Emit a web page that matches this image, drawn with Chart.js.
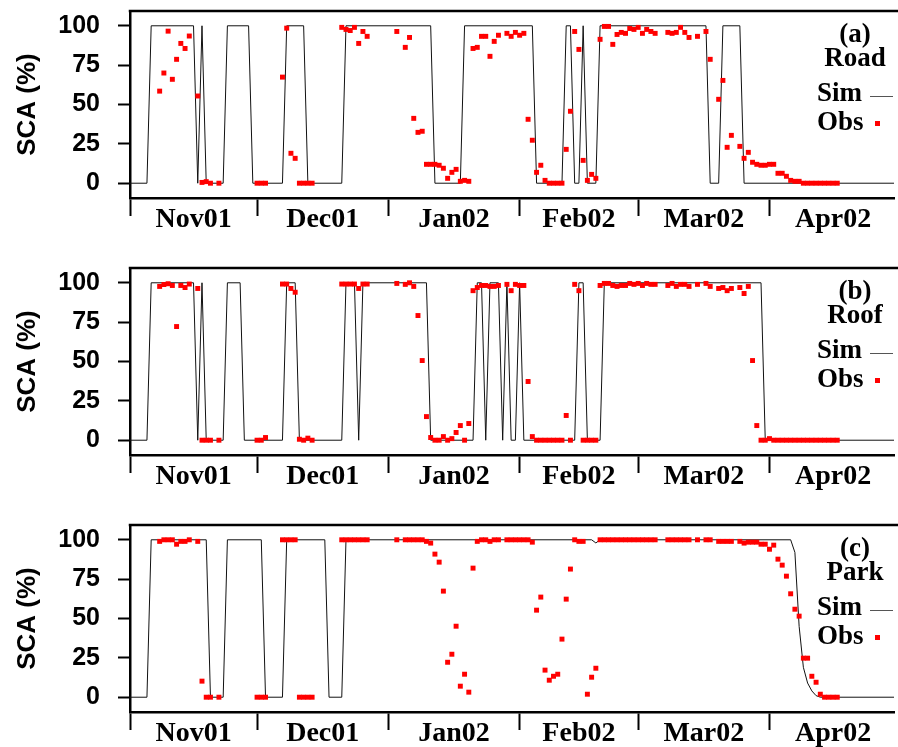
<!DOCTYPE html>
<html>
<head>
<meta charset="utf-8">
<script src="https://cdn.jsdelivr.net/npm/chart.js@4.4.1/dist/chart.umd.min.js"></script>
<style>
  html, body { margin: 0; padding: 0; background: #ffffff; }
  #wrap { position: relative; width: 898px; height: 747px; overflow: hidden; background: #fff; }
  canvas { position: absolute; left: 0; }
</style>
</head>
<body>
<div id="wrap">
  <canvas id="c1" width="898" height="257" style="top:0px"></canvas>
  <canvas id="c2" width="898" height="257" style="top:257px"></canvas>
  <canvas id="c3" width="898" height="233" style="top:514px"></canvas>
</div>
<script>
// ---- Data (x = day since 1 Nov 2001, y = snow covered area %) ----
const monthLabels = ['Nov01', 'Dec01', 'Jan02', 'Feb02', 'Mar02', 'Apr02'];
const monthStarts = [0, 30, 61, 92, 120, 151];
const monthMids = [15, 45.5, 76.5, 106, 135.5, 166];
const yTickValues = [0, 25, 50, 75, 100];

const panelTags = ['(a)', '(b)', '(c)'];
const panelNames = ['Road', 'Roof', 'Park'];

const simRoad = [[0,0],[4,0],[5,100],[15,100],[16,0],[17,100],[18,0],[22,0],[23,100],[28,100],[29,0],[36,0],[37,100],[41,100],[42,0],[50,0],[51,100],[71,100],[72,0],[78,0],[79,100],[95,100],[96,0],[102,0],[103,100],[104,100],[105,0],[106,0],[107,100],[108,0],[110,0],[111,100],[136,100],[137,0],[139,0],[140,100],[144,100],[145,0],[181,0]];

const obsRoad = [[7,58.5],[8,70],[9,96.6],[10,66],[11,78.7],[12,88.8],[13,85.6],[14,93.5],[16,55.4],[17,0.5],[18,1],[19,0],[21,0],[30,0],[31,0],[32,0],[36,67.4],[37,98.5],[38,19],[39,15.8],[40,0],[41,0],[42,0],[43,0],[50,99],[51,97.7],[52,97],[53,99],[54,88.8],[55,96.4],[56,93.3],
[63,96.4],[65,86.3],[66,92.6],[67,41.2],[68,32.3],[69,33],[70,12],[71,12],[72,12],[73,11.4],[74,9.5],[75,3.1],[76,6.9],[77,8.8],[78,1.2],[79,1.8],[80,1.2],[81,85.6],[82,86.3],[83,93.3],[84,93.3],[85,80.6],[86,90.1],[87,94],[89,95.2],[90,93.3],[91,95.8],[92,94],[93,95.2],[94,40.6],[95,27.3],[96,6.9],[97,11.4],[98,1.8],[99,0],[100,0],[101,0],[102,0],[103,21.5],[104,45.7],[105,96.4],[106,85],[107,14.5],[108,1.8],[109,5.6],[110,3.1],[111,91.4],[112,99.6],[113,99.6],[114,88.2],[115,94.5],[116,95.8],[117,95.2],[118,98.3],[119,97.7],[120,99],[121,95.2],[122,97.7],[123,96.4],[124,95.2],[127,95.8],[128,95.2],[129,95.8],[130,99],[131,95.8],[132,92.6],[134,93.3],[136,96.4],[137,78.7],[139,53.3],[140,65.3],[141,22.8],[142,30.4],[144,23.4],[145,15.8],[146,19.6],[147,13.3],[148,12],[149,11.4],[150,11.4],[151,12],[152,12],[153,6.3],[154,6.3],[155,4.4],[156,1.8],[157,1.2],[158,1.2],[159,0],[160,0],[161,0],[162,0],[163,0],[164,0],[165,0],[166,0],[167,0]];

const simRoof = [[0,0],[4,0],[5,100],[15,100],[16,0],[17,100],[18,0],[22,0],[23,100],[26,100],[27,0],[36,0],[37,100],[39,100],[40,0],[50,0],[51,100],[53,100],[54,0],[55,100],[70,100],[71,0],[81,0],[82,100],[83,100],[84,0],[85,100],[87,100],[88,0],[89,100],[90,0],[91,0],[92,100],[93,0],[105,0],[106,100],[107,100],[108,0],[111,0],[112,100],[149,100],[150,0],[181,0]];

const obsRoof = [[7,97.7],[8,98.9],[9,99.4],[10,98.3],[11,72.2],[12,98.3],[13,97],[14,99.2],[16,96.4],[17,0],[18,0],[19,0],[21,0],[30,0],[31,0],[32,1.7],[36,99.2],[37,99.2],[38,96.4],[39,94],[40,0.6],[41,0],[42,1.3],[43,0],[50,99.2],[51,99.2],[52,99.2],[53,99.2],[54,96.4],[55,99.2],[56,99.2],
[63,99.6],[65,99],[66,100],[67,97.7],[68,79.2],[69,50.6],[70,15],[71,1.7],[72,0],[73,0],[74,2.3],[75,0],[76,1],[77,4.9],[78,9.3],[79,0],[80,10.6],[81,95],[82,97],[83,98.3],[84,98.3],[85,97.7],[86,97.7],[87,98.3],[89,99],[90,95],[91,99],[92,98.3],[93,98.3],[94,37.3],[95,2.3],[96,0],[97,0],[98,0],[99,0],[100,0],[101,0],[102,0],[103,15.7],[104,0],[105,99],[106,95],[107,0],[108,0],[109,0],[110,0],[111,98.3],[112,99.6],[113,99.6],[114,98.3],[115,97.7],[116,98.3],[117,98.3],[118,99.6],[119,99],[120,99.6],[121,98.3],[122,99.6],[123,99],[124,99],[127,98.3],[128,99.6],[129,97.7],[130,99],[131,99],[132,97.7],[134,99],[136,99.6],[137,97.7],[139,96.4],[140,97],[141,95],[142,96.4],[144,97],[145,93.2],[146,97.7],[147,50.6],[148,9.3],[149,0],[150,0],[151,1],[152,0],[153,0],[154,0],[155,0],[156,0],[157,0],[158,0],[159,0],[160,0],[161,0],[162,0],[163,0],[164,0],[165,0],[166,0],[167,0]];

const simPark = [[0,0],[4,0],[5,100],[18,100],[19,0],[22,0],[23,100],[31,100],[32,0],[36,0],[37,100],[46,100],[47,0],[50,0],[51,100],[109,100],[110,98],[111,100],[156,100],[157,92],[158,45],[159,19],[160,9],[161,4],[162,1],[163,0],[181,0]];

const obsPark = [[7,99],[8,100],[9,100],[10,100],[11,97.2],[12,99],[13,99],[14,100],[16,99],[17,10.2],[18,0],[19,0],[21,0],[30,0],[31,0],[32,0],[36,100],[37,100],[38,100],[39,100],[40,0],[41,0],[42,0],[43,0],[50,100],[51,100],[52,100],[53,100],[54,100],[55,100],[56,100],
[63,100],[65,100],[66,100],[67,100],[68,100],[69,100],[70,99],[71,97.9],[72,90.9],[73,85.8],[74,67.4],[75,22.2],[76,27.3],[77,45.1],[78,7],[79,14.6],[80,3.2],[81,82],[82,99],[83,100],[84,100],[85,99],[86,100],[87,100],[89,100],[90,100],[91,100],[92,100],[93,100],[94,100],[95,98.5],[96,55.3],[97,63.6],[98,17.2],[99,10.8],[100,13.3],[101,14.6],[102,36.9],[103,62.3],[104,81.4],[105,100],[106,99],[107,99],[108,1.9],[109,12.7],[110,18.4],[111,100],[112,100],[113,100],[114,100],[115,100],[116,100],[117,100],[118,100],[119,100],[120,100],[121,100],[122,100],[123,100],[124,100],[127,100],[128,100],[129,100],[130,100],[131,100],[132,100],[134,100],[136,100],[137,100],[139,99],[140,99],[141,99],[142,99],[144,99],[145,97.9],[146,98.5],[147,98.5],[148,98.5],[149,97.2],[150,97.2],[151,94],[152,96.6],[153,87.7],[154,83.9],[155,76.9],[156,65.7],[157,55.9],[158,51.5],[159,24.8],[160,24.8],[161,13.3],[162,9.5],[163,1.9],[164,0],[165,0],[166,0],[167,0]];

// ---- Chart construction ----
const xTickValues = monthStarts.concat(monthMids).sort((a, b) => a - b);

function panelDecor(tag, name) {
  return {
    id: 'panelDecor',
    afterDraw(chart) {
      const ctx = chart.ctx;
      const a = chart.chartArea;
      ctx.save();
      // top frame line
      ctx.strokeStyle = '#000';
      ctx.lineWidth = 2.5;
      ctx.beginPath();
      ctx.moveTo(a.left - 1.25, a.top);
      ctx.lineTo(chart.width, a.top);
      ctx.stroke();
      // legend text
      ctx.fillStyle = '#000';
      ctx.font = 'bold 27px "Liberation Serif"';
      ctx.textBaseline = 'alphabetic';
      ctx.textAlign = 'center';
      ctx.fillText(tag, 855, 41.5);
      ctx.fillText(name, 855, 66);
      ctx.textAlign = 'left';
      ctx.fillText('Sim', 817, 100.5);
      ctx.fillText('Obs', 817, 129.5);
      ctx.strokeStyle = '#555';
      ctx.lineWidth = 1;
      ctx.beginPath();
      ctx.moveTo(870, 96.5);
      ctx.lineTo(893, 96.5);
      ctx.stroke();
      ctx.fillStyle = '#ff0000';
      ctx.fillRect(875, 121, 5, 5);
      ctx.restore();
    }
  };
}

function makePanel(id, sim, obs, tag, name, H) {
  const el = document.getElementById(id);
  return new Chart(el, {
    type: 'scatter',
    data: {
      datasets: [
        {
          type: 'line',
          label: 'Sim',
          data: sim.map(p => ({ x: p[0], y: p[1] })),
          borderColor: '#111',
          borderWidth: 1,
          pointRadius: 0,
          tension: 0,
          fill: false,
          order: 2
        },
        {
          type: 'scatter',
          label: 'Obs',
          data: obs.map(p => ({ x: p[0], y: p[1] })),
          pointStyle: 'rect',
          pointRadius: 3.5,
          backgroundColor: '#ff0000',
          borderWidth: 0,
          order: 1
        }
      ]
    },
    options: {
      responsive: false,
      animation: false,
      devicePixelRatio: 1,
      layout: { padding: { top: 11, right: 0, left: 0, bottom: 0 } },
      plugins: { legend: { display: false }, tooltip: { enabled: false } },
      scales: {
        x: {
          type: 'linear',
          min: 0,
          max: 180.4,
          afterBuildTicks: s => { s.ticks = xTickValues.map(v => ({ value: v })); },
          afterFit: s => { s.height = H - 198; s.paddingLeft = 0; s.paddingRight = 0; },
          ticks: {
            autoSkip: false,
            maxRotation: 0,
            minRotation: 0,
            padding: -13,
            color: '#000',
            font: { family: '"Liberation Serif"', weight: 'bold', size: 28, lineHeight: 1.2 },
            callback: v => {
              const i = monthMids.indexOf(v);
              return i >= 0 ? monthLabels[i] : '';
            }
          },
          grid: {
            drawOnChartArea: false,
            drawTicks: true,
            tickLength: 18,
            tickWidth: 2,
            tickColor: c => (c.tick && monthStarts.indexOf(c.tick.value) >= 0) ? '#000' : 'rgba(0,0,0,0)'
          },
          border: { display: true, color: '#000', width: 2.5 }
        },
        y: {
          type: 'linear',
          min: -9.4,
          max: 109.4,
          afterBuildTicks: s => { s.ticks = yTickValues.map(v => ({ value: v })); },
          afterFit: s => { s.width = 130; s.paddingTop = 0; s.paddingBottom = 0; },
          ticks: {
            padding: 18,
            color: '#000',
            font: { family: '"Liberation Sans"', weight: 'bold', size: 25 }
          },
          grid: {
            drawOnChartArea: false,
            drawTicks: true,
            tickLength: 12,
            tickWidth: 2,
            tickColor: '#000'
          },
          border: { display: true, color: '#000', width: 2.5 },
          title: {
            display: true,
            text: 'SCA (%)',
            color: '#000',
            font: { family: '"Liberation Sans"', weight: 'bold', size: 26, lineHeight: 1.2 },
            padding: { top: 12, bottom: 0 }
          }
        }
      }
    },
    plugins: [panelDecor(tag, name)]
  });
}

makePanel('c1', simRoad, obsRoad, panelTags[0], panelNames[0], 257);
makePanel('c2', simRoof, obsRoof, panelTags[1], panelNames[1], 257);
makePanel('c3', simPark, obsPark, panelTags[2], panelNames[2], 233);
</script>
</body>
</html>
